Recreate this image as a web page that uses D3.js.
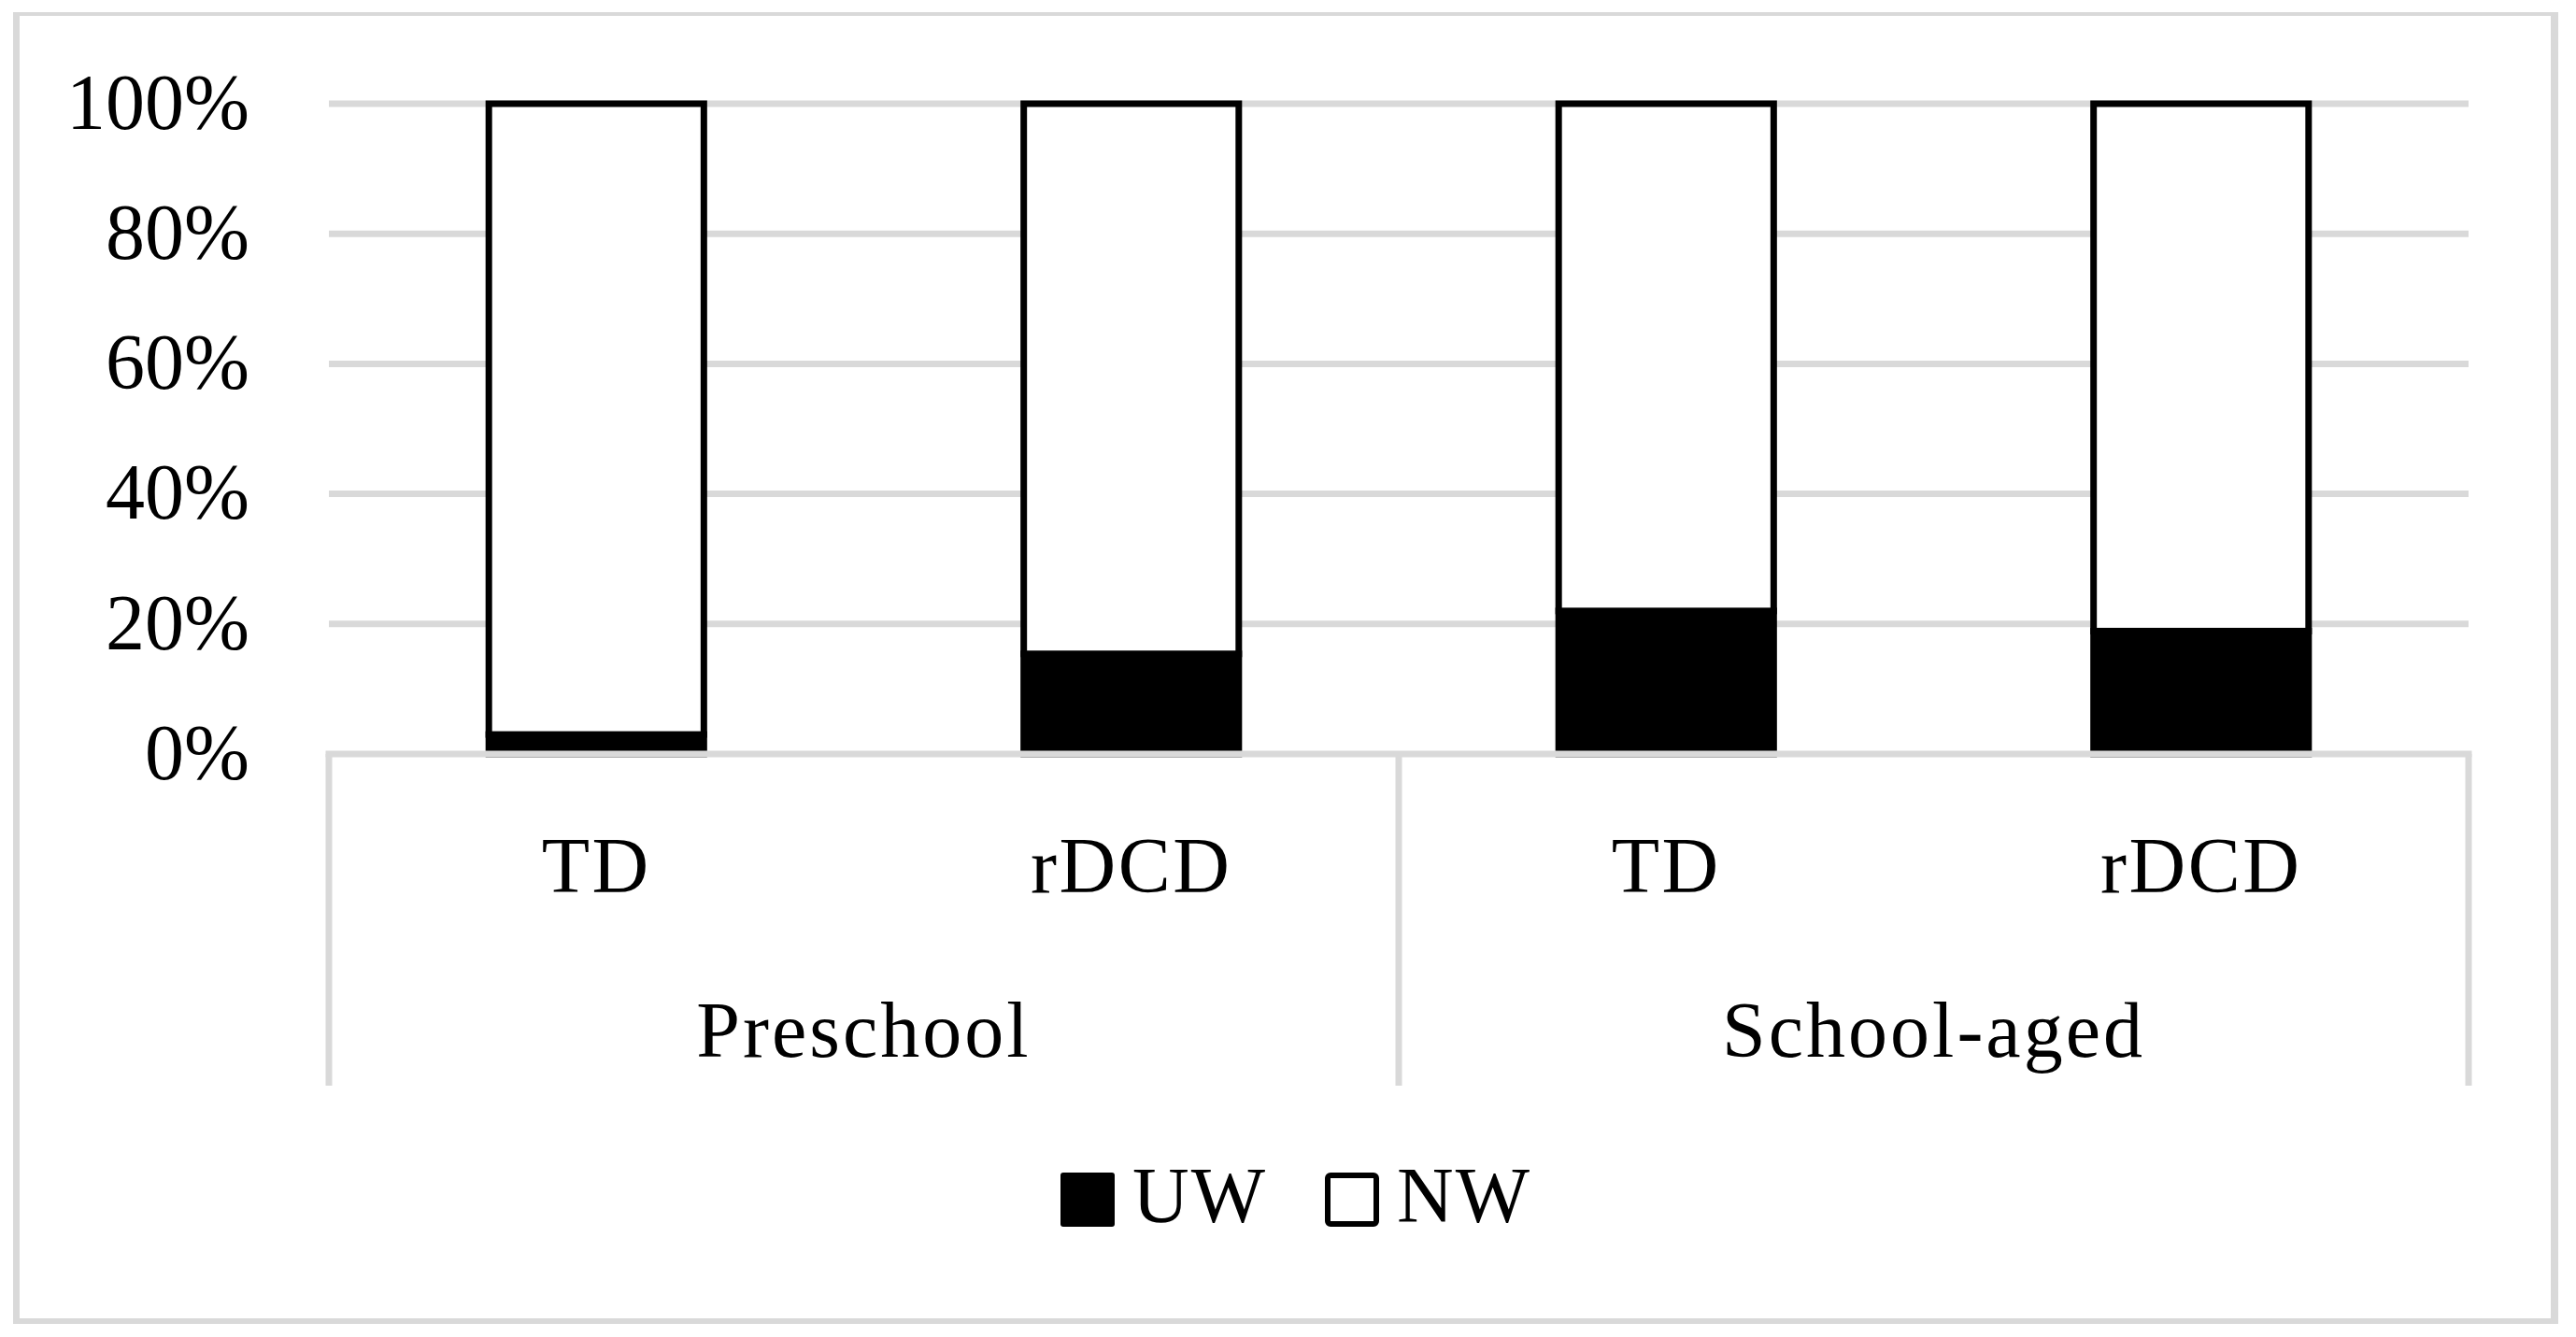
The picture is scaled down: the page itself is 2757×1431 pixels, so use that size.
<!DOCTYPE html>
<html><head><meta charset="utf-8">
<script src="https://cdn.jsdelivr.net/npm/d3@7/dist/d3.min.js"></script>
<style>html,body{margin:0;padding:0;background:#fff;} svg{display:block}</style>
</head><body>
<script>
// ---- data ----
const categories = ["TD", "rDCD", "TD", "rDCD"];
const groups = ["Preschool", "School-aged"];
const seriesNames = ["UW", "NW"];
const uwValues = [3.0, 15.4, 22.0, 18.9];
const nwValues = [97.0, 84.6, 78.0, 81.1];
const yTicks = [0, 20, 40, 60, 80, 100];
const yTickLabels = ["0%", "20%", "40%", "60%", "80%", "100%"];

// ---- layout ----
const W = 2757, H = 1431;
const plot = {left: 352, right: 2642, top: 111, bottom: 807};
const grey = "#d9d9d9";
const font = "'Liberation Serif', 'DejaVu Serif', serif";
const fs = 84;

const svg = d3.select("body").append("svg").attr("width", W).attr("height", H);
svg.append("rect").attr("width", W).attr("height", H).attr("fill", "#fff");

// outer border
const border = svg.append("g").attr("stroke", grey);
border.append("line").attr("x1", 14).attr("x2", 2738).attr("y1", 15).attr("y2", 15).attr("stroke-width", 4);
border.append("line").attr("x1", 14).attr("x2", 2738).attr("y1", 1414).attr("y2", 1414).attr("stroke-width", 6);
border.append("line").attr("x1", 17.5).attr("x2", 17.5).attr("y1", 13).attr("y2", 1417).attr("stroke-width", 7);
border.append("line").attr("x1", 2734).attr("x2", 2734).attr("y1", 13).attr("y2", 1417).attr("stroke-width", 8);

const x = d3.scaleBand().domain(d3.range(categories.length))
  .range([plot.left, plot.right]).paddingInner(0.598).paddingOuter(0.299);
const y = d3.scaleLinear().domain([0, 100]).range([plot.bottom, plot.top]);

// gridlines
svg.append("g").selectAll("line").data(yTicks.filter(d => d > 0)).join("line")
  .attr("x1", plot.left).attr("x2", plot.right)
  .attr("y1", d => y(d)).attr("y2", d => y(d))
  .attr("stroke", grey).attr("stroke-width", 7);

// y tick labels
svg.append("g").selectAll("text").data(yTicks).join("text")
  .attr("x", 267).attr("y", d => y(d)).attr("dy", "0.32em")
  .attr("text-anchor", "end").attr("font-family", font).attr("font-size", fs)
  .attr("fill", "#000").text((d, i) => yTickLabels[i]);

// stacked bars
const rows = categories.map((c, i) => ({i, UW: uwValues[i], NW: nwValues[i]}));
const stacked = d3.stack().keys(seriesNames)(rows);
const fills = {UW: "#000", NW: "#fff"};
svg.append("g").selectAll("g").data(stacked).join("g")
  .attr("fill", d => fills[d.key]).attr("stroke", "#000").attr("stroke-width", 7)
  .selectAll("rect").data(d => d).join("rect")
  .attr("x", d => x(d.data.i)).attr("width", x.bandwidth())
  .attr("y", d => y(d[1])).attr("height", d => y(d[0]) - y(d[1]));

// category axis (multi-level box)
const axisBottom = 1162;
const ax = svg.append("g").attr("stroke", grey).attr("stroke-width", 7);
ax.append("line").attr("x1", plot.left - 3.5).attr("x2", plot.right + 3.5)
  .attr("y1", y(0)).attr("y2", y(0));
const step = x.step();
const dividers = [plot.left, plot.left + 2 * step, plot.right];
ax.selectAll("line.v").data(dividers).join("line").attr("class", "v")
  .attr("x1", d => d).attr("x2", d => d).attr("y1", y(0)).attr("y2", axisBottom);

// category labels
svg.append("g").selectAll("text").data(categories).join("text")
  .attr("x", (d, i) => x(i) + x.bandwidth() / 2).attr("y", 955)
  .attr("text-anchor", "middle").attr("font-family", font).attr("font-size", fs)
  .attr("letter-spacing", 2.5).text(d => d);

// group labels
svg.append("g").selectAll("text").data(groups).join("text")
  .attr("x", (d, g) => plot.left + step * (2 * g + 1)).attr("y", 1131)
  .attr("text-anchor", "middle").attr("font-family", font).attr("font-size", fs)
  .attr("letter-spacing", 3).text(d => d);

// legend
const legendItems = [
  {name: seriesNames[0], sx: 1135, tx: 1212},
  {name: seriesNames[1], sx: 1418, tx: 1495}
];
const lg = svg.append("g");
lg.selectAll("rect").data(legendItems).join("rect")
  .attr("x", d => d.sx + (d.name === "NW" ? 3 : 0)).attr("y", d => 1255 + (d.name === "NW" ? 3 : 0))
  .attr("width", d => d.name === "NW" ? 52 : 58).attr("height", d => d.name === "NW" ? 52 : 58)
  .attr("rx", 3)
  .attr("fill", d => fills[d.name]).attr("stroke", "#000").attr("stroke-width", d => d.name === "NW" ? 6 : 0);
lg.selectAll("text").data(legendItems).join("text")
  .attr("x", d => d.tx).attr("y", 1308)
  .attr("font-family", font).attr("font-size", fs).attr("letter-spacing", 2)
  .text(d => d.name);
</script>
</body></html>
